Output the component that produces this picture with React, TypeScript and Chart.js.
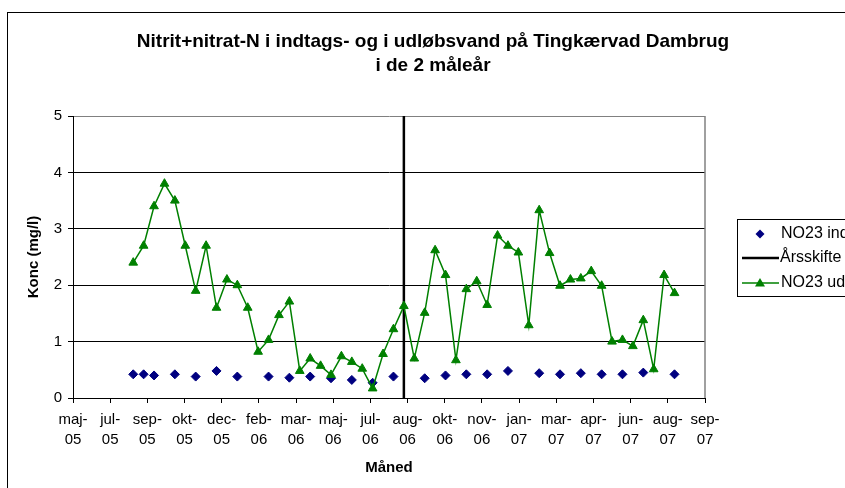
import React, { useEffect, useRef } from "react";
import { Chart, registerables } from "chart.js";

Chart.register(...registerables);

const titleLines = ["Nitrit+nitrat-N i indtags- og i udløbsvand på Tingkærvad Dambrug", "i de 2 måleår"];
const yAxisTitle = "Konc (mg/l)";
const xAxisTitle = "Måned";
const axisStart = "2005-05-28";
const axisSpanDays = 850;
const tickStepDays = 50;
const xTickLabels = ["maj-05", "jul-05", "sep-05", "okt-05", "dec-05", "feb-06", "mar-06", "maj-06", "jul-06", "aug-06", "okt-06", "nov-06", "jan-07", "mar-07", "apr-07", "jun-07", "aug-07", "sep-07"];
const yTicks = [0, 1, 2, 3, 4, 5];

const inletLabel = "NO23 indtag";
const yearChangeLabel = "Årsskifte";
const outletLabel = "NO23 udløb";

const inletDates = [
  "2005-08-17", "2005-08-31", "2005-09-14", "2005-10-12", "2005-11-09", "2005-12-07",
  "2006-01-04", "2006-02-15", "2006-03-15", "2006-04-12", "2006-05-10", "2006-06-07",
  "2006-07-05", "2006-08-02", "2006-09-13", "2006-10-11", "2006-11-08", "2006-12-06",
  "2007-01-03", "2007-02-14", "2007-03-14", "2007-04-11", "2007-05-09", "2007-06-06",
  "2007-07-04", "2007-08-15",
];
const inletValues = [
  0.42, 0.42, 0.40, 0.42, 0.38, 0.48,
  0.38, 0.38, 0.36, 0.38, 0.35, 0.32,
  0.27, 0.38, 0.35, 0.40, 0.42, 0.42,
  0.48, 0.44, 0.42, 0.44, 0.42, 0.42,
  0.45, 0.42,
];

const outletDates = [
  "2005-08-17", "2005-08-31", "2005-09-14", "2005-09-28", "2005-10-12", "2005-10-26",
  "2005-11-09", "2005-11-23", "2005-12-07", "2005-12-21", "2006-01-04", "2006-01-18",
  "2006-02-01", "2006-02-15", "2006-03-01", "2006-03-15", "2006-03-29", "2006-04-12",
  "2006-04-26", "2006-05-10", "2006-05-24", "2006-06-07", "2006-06-21", "2006-07-05",
  "2006-07-19", "2006-08-02", "2006-08-16", "2006-08-30", "2006-09-13", "2006-09-27",
  "2006-10-11", "2006-10-25", "2006-11-08", "2006-11-22", "2006-12-06", "2006-12-20",
  "2007-01-03", "2007-01-17", "2007-01-31", "2007-02-14", "2007-02-28", "2007-03-14",
  "2007-03-28", "2007-04-11", "2007-04-25", "2007-05-09", "2007-05-23", "2007-06-06",
  "2007-06-20", "2007-07-04", "2007-07-18", "2007-08-01", "2007-08-15",
];
const outletValues = [
  2.4, 2.7, 3.4, 3.8, 3.5, 2.7,
  1.9, 2.7, 1.6, 2.1, 2.0, 1.6,
  0.82, 1.03, 1.47, 1.71, 0.48, 0.70,
  0.57, 0.41, 0.74, 0.64, 0.52, 0.17,
  0.78, 1.22, 1.63, 0.70, 1.51, 2.62,
  2.18, 0.67, 1.93, 2.07, 1.65, 2.88,
  2.70, 2.58, 1.29, 3.33, 2.57, 1.99,
  2.10, 2.12, 2.25, 1.99, 1.00, 1.03,
  0.92, 1.38, 0.51, 2.18, 1.86,
];

const yearChangeDate = "2006-08-16";
const yearChangeRange = [0, 5];

const FONT = "'Liberation Sans', Arial, sans-serif";

function dayOf(iso: string): number {
  const [y, m, d] = iso.split("-").map(Number);
  const [y0, m0, d0] = axisStart.split("-").map(Number);
  return Math.round((Date.UTC(y, m - 1, d) - Date.UTC(y0, m0 - 1, d0)) / 86400000);
}

const decorPlugin = {
  id: "decor",
  beforeDraw(chart: any) {
    const ctx = chart.ctx;
    ctx.save();
    ctx.fillStyle = "#ffffff";
    ctx.fillRect(0, 0, chart.width, chart.height);
    ctx.strokeStyle = "#000000";
    ctx.lineWidth = 1;
    ctx.strokeRect(7.5, 12.5, 2000, 2000);
    ctx.restore();
  },
  afterDraw(chart: any) {
    const ctx = chart.ctx;
    const a = chart.chartArea;
    ctx.save();
    ctx.strokeStyle = "#808080";
    ctx.lineWidth = 1.5;
    ctx.beginPath();
    ctx.moveTo(a.right, a.top);
    ctx.lineTo(a.right, a.bottom);
    ctx.stroke();

    ctx.fillStyle = "#000";
    ctx.textAlign = "center";
    ctx.textBaseline = "middle";
    ctx.font = `bold 19px ${FONT}`;
    ctx.fillText(titleLines[0], 433, 42);
    ctx.fillText(titleLines[1], 433, 66);

    ctx.font = `bold 15px ${FONT}`;
    ctx.fillText(xAxisTitle, (a.left + a.right) / 2, 468);
    ctx.save();
    ctx.translate(34, (a.top + a.bottom) / 2);
    ctx.rotate(-Math.PI / 2);
    ctx.fillText(yAxisTitle, 0, 0);
    ctx.restore();

    const lx = 737.5, ly = 219.5;
    ctx.strokeStyle = "#000";
    ctx.lineWidth = 1;
    ctx.strokeRect(lx, ly, 400, 77);
    ctx.font = `16px ${FONT}`;
    ctx.textAlign = "left";
    const rows = [234, 258, 283];
    ctx.fillStyle = "#000080";
    ctx.beginPath();
    ctx.moveTo(760, rows[0] - 4.5);
    ctx.lineTo(764.5, rows[0]);
    ctx.lineTo(760, rows[0] + 4.5);
    ctx.lineTo(755.5, rows[0]);
    ctx.closePath();
    ctx.fill();
    ctx.fillStyle = "#000";
    ctx.fillText(inletLabel, 781, rows[0]);
    ctx.strokeStyle = "#000";
    ctx.lineWidth = 2.5;
    ctx.beginPath();
    ctx.moveTo(742, rows[1]);
    ctx.lineTo(779, rows[1]);
    ctx.stroke();
    ctx.fillText(yearChangeLabel, 780, rows[1]);
    ctx.strokeStyle = "#008000";
    ctx.lineWidth = 1.5;
    ctx.beginPath();
    ctx.moveTo(742, rows[2]);
    ctx.lineTo(779, rows[2]);
    ctx.stroke();
    ctx.fillStyle = "#008000";
    ctx.beginPath();
    ctx.moveTo(760, rows[2] - 5);
    ctx.lineTo(765, rows[2] + 3.5);
    ctx.lineTo(755, rows[2] + 3.5);
    ctx.closePath();
    ctx.fill();
    ctx.fillStyle = "#000";
    ctx.fillText(outletLabel, 781, rows[2]);
    ctx.restore();
  },
};

export default function App() {
  const ref = useRef<HTMLCanvasElement | null>(null);
  useEffect(() => {
    document.body.style.margin = "0";
    const canvas = ref.current!;
    Chart.defaults.font.family = FONT;
    Chart.defaults.color = "#000";
    const chart = new Chart(canvas, {
      type: "scatter",
      data: {
        datasets: [
          {
            label: inletLabel,
            data: inletDates.map((d, i) => ({ x: dayOf(d), y: inletValues[i] })),
            showLine: false,
            pointStyle: "rectRot",
            pointRadius: 4.5,
            backgroundColor: "#000080",
            borderColor: "#000080",
            borderWidth: 1,
            order: 2,
          },
          {
            label: yearChangeLabel,
            data: yearChangeRange.map((v) => ({ x: dayOf(yearChangeDate), y: v })),
            showLine: true,
            borderColor: "#000",
            borderWidth: 2.5,
            pointRadius: 0,
            order: 1,
          },
          {
            label: outletLabel,
            data: outletDates.map((d, i) => ({ x: dayOf(d), y: outletValues[i] })),
            showLine: true,
            borderColor: "#008000",
            backgroundColor: "#008000",
            borderWidth: 1.5,
            pointStyle: "triangle",
            pointRadius: 5,
            pointBorderWidth: 1,
            tension: 0,
            order: 0,
          },
        ],
      },
      options: {
        animation: false,
        responsive: false,
        devicePixelRatio: 1,
        layout: { padding: { top: 116, right: 140, bottom: 0, left: 0 } },
        plugins: { legend: { display: false }, tooltip: { enabled: false }, title: { display: false } },
        scales: {
          x: {
            type: "linear",
            min: 0,
            max: axisSpanDays,
            afterFit: (s: any) => { s.height = 90; },
            afterBuildTicks: (s: any) => {
              s.ticks = xTickLabels.map((_, i) => ({ value: i * tickStepDays }));
            },
            ticks: {
              autoSkip: false,
              maxRotation: 0,
              minRotation: 0,
              padding: 7,
              font: { size: 15, lineHeight: 1.33 },
              callback: (_v: any, i: number) => {
                const s = xTickLabels[i];
                return [s.slice(0, -2), s.slice(-2)];
              },
            },
            grid: { drawOnChartArea: false, drawTicks: true, tickLength: 5, color: "#000" },
            border: { color: "#000", width: 1 },
          },
          y: {
            min: 0,
            max: 5,
            afterFit: (s: any) => { s.width = 73; },
            afterBuildTicks: (s: any) => {
              s.ticks = yTicks.map((v) => ({ value: v }));
            },
            ticks: { padding: 6, font: { size: 15 } },
            grid: {
              tickLength: 5,
              color: (c: any) => (c.tick && c.tick.value === 5 ? "#808080" : "#000"),
              tickColor: "#000",
            },
            border: { color: "#000", width: 1 },
          },
        },
      },
      plugins: [decorPlugin],
    } as any);
    return () => chart.destroy();
  }, []);
  return (
    <div style={{ width: 845, height: 488, overflow: "hidden" }}>
      <canvas ref={ref} width={845} height={488} style={{ display: "block" }} />
    </div>
  );
}
